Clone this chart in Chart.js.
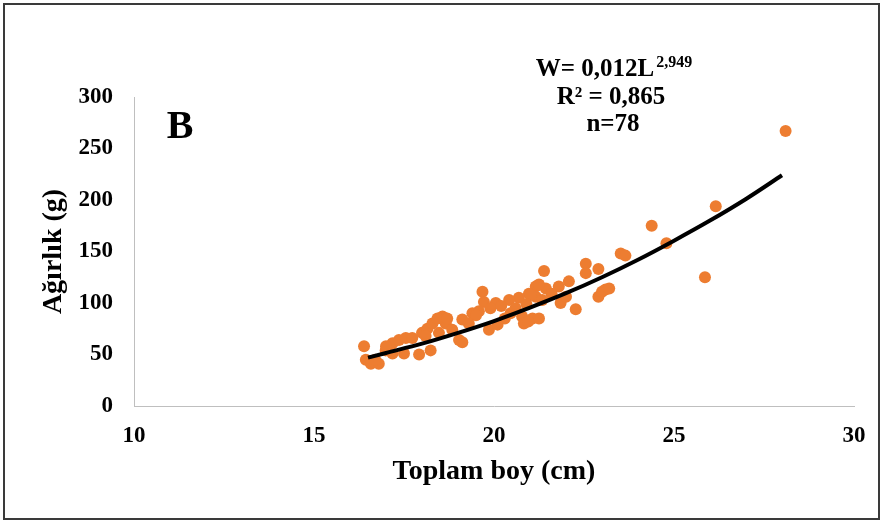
<!DOCTYPE html>
<html>
<head>
<meta charset="utf-8">
<script src="https://cdn.jsdelivr.net/npm/chart.js@4/dist/chart.umd.min.js"></script>
<style>
  body { margin: 0; background: #fff; }
  #wrap { position: relative; width: 882px; height: 524px; }
  #frame { position: absolute; left: 3px; top: 3px; width: 873px; height: 513px; border: 2px solid #3a3a3a; pointer-events: none; }
</style>
</head>
<body>
<div id="wrap">
  <canvas id="lwChart"></canvas>
  <div id="frame"></div>
</div>
<script>
// total length (cm) and weight (g)
const lengthCm = [28.1, 26.16, 24.38, 24.79, 23.52, 23.65, 25.86, 22.55, 22.55, 22.9,
  23.1, 22.9, 23.0, 21.39, 21.16, 21.44, 21.8, 22.08, 20.97, 21.16,
  21.34, 21.85, 22.27, 21.07, 21.25, 19.68, 19.72, 21.25, 21.02, 20.69,
  20.42, 20.05, 19.58, 19.4, 19.12, 18.57, 18.66, 20.78, 20.83, 19.86,
  20.1, 20.46, 20.6, 19.03, 19.12, 18.47, 16.39, 16.44, 16.58, 16.8,
  16.99, 17.18, 17.36, 17.55, 17.73, 17.5, 17.92, 18.24, 18.0, 18.15,
  18.29, 18.43, 18.7, 18.84, 17.18, 20.95, 19.9, 20.2, 19.5, 20.3,
  17.0, 18.1, 19.3, 22.0, 21.6, 20.9, 16.7, 23.2];
const weightG = [267, 194, 175, 158, 148, 146, 125, 138, 129, 133,
  113, 106, 111, 131, 116, 114, 116, 121, 109, 106,
  103, 100, 94, 85, 85, 111, 101, 118, 108, 105,
  103, 100, 92, 90, 84, 87, 80, 87, 80, 74,
  79, 90, 95, 64, 62, 71, 58, 45, 41, 41,
  54, 61, 64, 66, 66, 51, 50, 54, 71, 75,
  80, 85, 85, 74, 51, 82, 95, 97, 88, 85,
  58, 68, 80, 106, 109, 99, 45, 114];

// power trend line W = 0,012 L^2,949 as drawn
const trendX = [16.5, 17, 18, 19, 20, 21, 22, 23, 24, 25, 26, 27, 28];
const trendY = [47, 51.5, 60.5, 71, 82.5, 95.5, 109.5, 125, 142, 160.5, 180, 201, 224];

const xTicks = [10, 15, 20, 25, 30];
const yTicks = [0, 50, 100, 150, 200, 250, 300];

const serif = '"Liberation Serif", "Times New Roman", serif';

const notes = {
  id: 'notes',
  afterDraw(chart) {
    const ctx = chart.ctx;
    ctx.save();
    ctx.fillStyle = '#000';
    ctx.textBaseline = 'alphabetic';

    // panel letter
    ctx.font = 'bold 40px ' + serif;
    ctx.textAlign = 'center';
    ctx.fillText('B', 180, 138);

    // equation with superscript
    const cx = 614;
    ctx.font = 'bold 25px ' + serif;
    const main = 'W= 0,012L';
    const wMain = ctx.measureText(main).width;
    ctx.font = 'bold 16px ' + serif;
    const sup = '2,949';
    const wSup = ctx.measureText(sup).width;
    const x0 = cx - (wMain + wSup + 2) / 2;
    ctx.textAlign = 'left';
    ctx.font = 'bold 25px ' + serif;
    ctx.fillText(main, x0, 76);
    ctx.font = 'bold 16px ' + serif;
    ctx.fillText(sup, x0 + wMain + 2, 67);

    ctx.textAlign = 'center';
    ctx.font = 'bold 25px ' + serif;
    ctx.fillText('R² = 0,865', 611, 104);
    ctx.fillText('n=78', 613, 131);
    ctx.restore();
  }
};

new Chart(document.getElementById('lwChart'), {
  type: 'scatter',
  data: {
    datasets: [{
      data: lengthCm.map((v, i) => ({ x: v, y: weightG[i] })),
      backgroundColor: '#ED7D31',
      borderColor: '#ED7D31',
      borderWidth: 0,
      pointRadius: 6,
      order: 2
    }, {
      data: trendX.map((v, i) => ({ x: v, y: trendY[i] })),
      showLine: true,
      borderColor: '#000',
      borderWidth: 4,
      pointRadius: 0,
      cubicInterpolationMode: 'monotone',
      order: 1
    }]
  },
  options: {
    responsive: true,
    maintainAspectRatio: false,
    animation: false,
    layout: { padding: { top: 97, right: 28, left: 0, bottom: 0 } },
    plugins: {
      legend: { display: false },
      tooltip: { enabled: false }
    },
    scales: {
      x: {
        type: 'linear',
        min: 10,
        max: 30,
        afterBuildTicks: (s) => { s.ticks = xTicks.map(v => ({ value: v })); },
        afterFit: (s) => { s.height = 118; },
        grid: { display: false, drawTicks: false },
        border: { color: '#bfbfbf', width: 1 },
        ticks: { color: '#000', padding: 16, font: { family: serif, size: 23, weight: 'bold' } },
        title: {
          display: true,
          text: 'Toplam boy (cm)',
          color: '#000',
          padding: { top: 0, bottom: 35 },
          font: { family: serif, size: 28, weight: 'bold' }
        }
      },
      y: {
        min: 0,
        max: 300,
        afterBuildTicks: (s) => { s.ticks = yTicks.map(v => ({ value: v })); },
        afterFit: (s) => { s.width = 134; },
        grid: { display: false, drawTicks: false },
        border: { color: '#bfbfbf', width: 1 },
        ticks: { color: '#000', padding: 21, font: { family: serif, size: 23, weight: 'bold' } },
        title: {
          display: true,
          text: 'Ağırlık (g)',
          color: '#000',
          padding: { top: 37, bottom: 0 },
          font: { family: serif, size: 28, weight: 'bold' }
        }
      }
    }
  },
  plugins: [notes]
});
</script>
</body>
</html>
